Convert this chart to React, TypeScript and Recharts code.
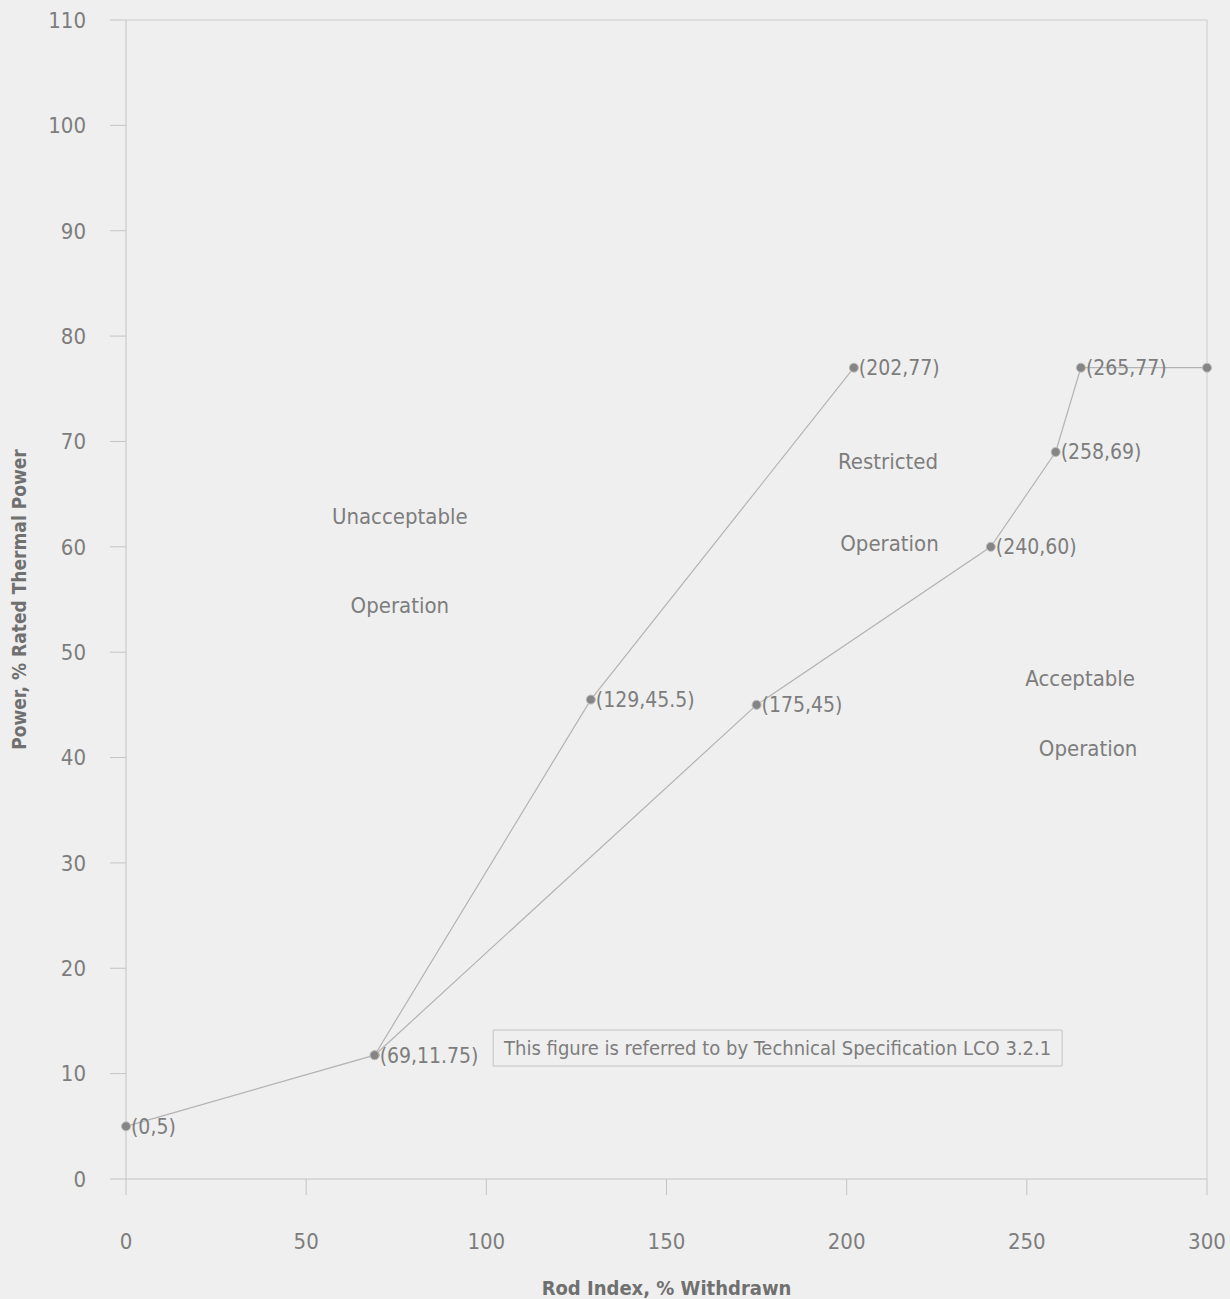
import React from "react";
import {
  ScatterChart,
  Scatter,
  XAxis,
  YAxis,
  ReferenceLine,
  ReferenceArea,
  ReferenceDot,
  Label,
} from "recharts";

const upperX = [0, 69, 129, 202];
const upperY = [5, 11.75, 45.5, 77];
const lowerX = [69, 175, 240, 258, 265, 300];
const lowerY = [11.75, 45, 60, 69, 77, 77];
const lowerLabelled = [false, true, true, true, true, false];

const xTicks = [0, 50, 100, 150, 200, 250, 300];
const yTicks = [0, 10, 20, 30, 40, 50, 60, 70, 80, 90, 100, 110];

const regionLabels = [
  { text: "Unacceptable", x: 76, y: 62.9 },
  { text: "Operation", x: 76, y: 54.5 },
  { text: "Restricted", x: 211.5, y: 68.1 },
  { text: "Operation", x: 211.9, y: 60.3 },
  { text: "Acceptable", x: 264.8, y: 47.5 },
  { text: "Operation", x: 267, y: 40.9 },
];

const noteText = "This figure is referred to by Technical Specification LCO 3.2.1";
const noteBox = { x1: 101.9, x2: 259.8, y1: 10.72, y2: 14.14 };

const FONT = "'Liberation Sans Narrow', 'DejaVu Sans Condensed', 'Liberation Sans', sans-serif";
const TXT = "#7d7d7d";

const upperData = upperX.map((x, i) => ({ x, y: upperY[i], show: true }));
const lowerData = lowerX.map((x, i) => ({ x, y: lowerY[i], show: lowerLabelled[i] }));

const PointShape = (props: any) => {
  const { cx, cy, payload } = props;
  if (cx == null || cy == null) return null;
  return (
    <g>
      <circle cx={cx} cy={cy} r={4.5} fill="#858585" stroke="#bdbdbd" strokeWidth={1} />
      {payload && payload.show ? (
        <text
          x={cx + 5}
          y={cy}
          dy="0.35em"
          fontSize={21}
          fontFamily={FONT}
          fill={TXT}
        >{`(${payload.x},${payload.y})`}</text>
      ) : null}
    </g>
  );
};

export default function App() {
  return (
    <div
      style={{
        position: "absolute",
        left: 0,
        top: 0,
        width: 1230,
        height: 1299,
        background: "#efefef",
        overflow: "hidden",
      }}
    >
      <ScatterChart
        width={1230}
        height={1299}
        margin={{ top: 20, right: 23, left: 0, bottom: 0 }}
      >
        <XAxis
          type="number"
          dataKey="x"
          domain={[0, 300]}
          ticks={xTicks}
          interval={0}
          height={120}
          tickSize={16}
          tickMargin={38}
          axisLine={{ stroke: "#c4c4c4" }}
          tickLine={{ stroke: "#c4c4c4" }}
          tick={{ fill: TXT, fontSize: 22, fontFamily: FONT }}
        >
          <Label
            value="Rod Index, % Withdrawn"
            position="insideBottom"
            offset={4}
            style={{ fill: "#707070", fontSize: 20, fontWeight: "bold", fontFamily: FONT }}
          />
        </XAxis>
        <YAxis
          type="number"
          dataKey="y"
          domain={[0, 110]}
          ticks={yTicks}
          interval={0}
          width={126}
          tickSize={16}
          tickMargin={24}
          axisLine={{ stroke: "#c4c4c4" }}
          tickLine={{ stroke: "#c4c4c4" }}
          tick={{ fill: TXT, fontSize: 22, fontFamily: FONT }}
        >
          <Label
            value="Power, % Rated Thermal Power"
            angle={-90}
            position="insideLeft"
            offset={19}
            style={{
              fill: "#707070",
              fontSize: 19,
              fontWeight: "bold",
              fontFamily: FONT,
              textAnchor: "middle",
            }}
          />
        </YAxis>
        <ReferenceLine y={110} stroke="#cccccc" ifOverflow="visible" />
        <ReferenceLine x={300} stroke="#cccccc" ifOverflow="visible" />
        <ReferenceArea
          x1={noteBox.x1}
          x2={noteBox.x2}
          y1={noteBox.y1}
          y2={noteBox.y2}
          fill="none"
          stroke="#c4c4c4"
          strokeWidth={1}
          label={{
            value: noteText,
            position: "center",
            fill: TXT,
            fontSize: 20,
            fontFamily: FONT,
          }}
        />
        {regionLabels.map((r, i) => (
          <ReferenceDot
            key={i}
            x={r.x}
            y={r.y}
            r={0}
            fill="none"
            stroke="none"
            label={{ value: r.text, position: "center", fill: TXT, fontSize: 22, fontFamily: FONT }}
          />
        ))}
        <Scatter
          data={upperData}
          line={{ stroke: "#b3b3b3", strokeWidth: 1.2 }}
          shape={PointShape}
          isAnimationActive={false}
        />
        <Scatter
          data={lowerData}
          line={{ stroke: "#b3b3b3", strokeWidth: 1.2 }}
          shape={PointShape}
          isAnimationActive={false}
        />
      </ScatterChart>
    </div>
  );
}
